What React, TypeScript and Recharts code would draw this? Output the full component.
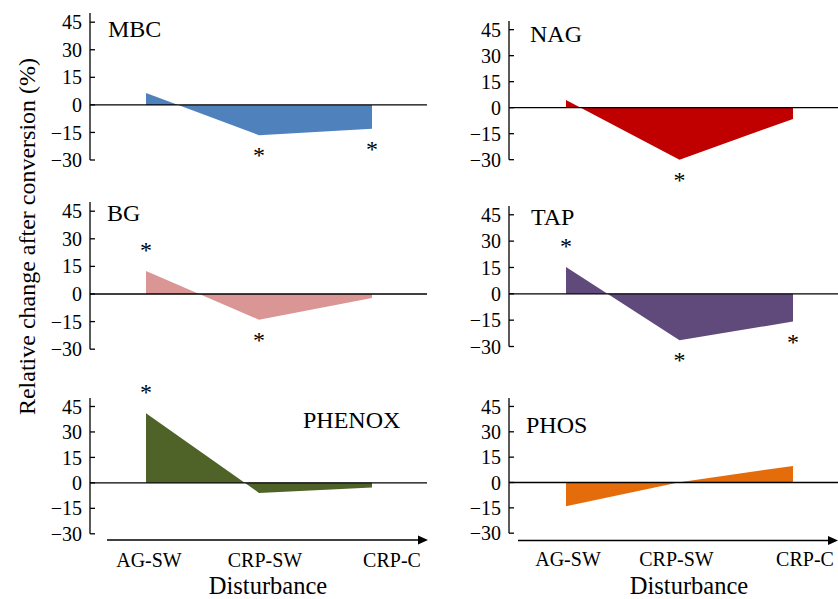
import React from 'react';
import { AreaChart, Area, XAxis, YAxis, ReferenceLine } from 'recharts';

// ---------- data ----------
const CATEGORIES = ['AG-SW', 'CRP-SW', 'CRP-C'];
const Y_TICKS = [-30, -15, 0, 15, 30, 45];

const MBC = [6.5, -16.5, -13];
const NAG = [4.4, -30, -6.5];
const BG = [12.5, -14, -2.2];
const TAP = [15.2, -26.5, -15.8];
const PHENOX = [41, -5.9, -2.7];
const PHOS = [-14, 0.2, 9.8];

const SIG_MBC = [false, true, true];
const SIG_NAG = [false, true, false];
const SIG_BG = [true, true, false];
const SIG_TAP = [true, true, true];
const SIG_PHENOX = [true, false, false];
const SIG_PHOS = [false, false, false];

const Y_TITLE = 'Relative change after conversion (%)';
const X_TITLE = 'Disturbance';

// ---------- style ----------
const FONT = '"Liberation Serif", "Times New Roman", Times, serif';

type Panel = {
  name: string;
  values: number[];
  sig: boolean[];
  color: string;
  col: 0 | 1;
  plotTop: number;
  plotBottom: number;
  titleX: number;
  titleY: number;
  showX: boolean;
};

const PANELS: Panel[] = [
  { name: 'MBC', values: MBC, sig: SIG_MBC, color: '#4F81BD', col: 0, plotTop: 13, plotBottom: 160, titleX: 108, titleY: 37, showX: false },
  { name: 'NAG', values: NAG, sig: SIG_NAG, color: '#C00000', col: 1, plotTop: 20.6, plotBottom: 159.3, titleX: 530, titleY: 41.5, showX: false },
  { name: 'BG', values: BG, sig: SIG_BG, color: '#D99694', col: 0, plotTop: 201.8, plotBottom: 349, titleX: 107, titleY: 221, showX: false },
  { name: 'TAP', values: TAP, sig: SIG_TAP, color: '#604A7B', col: 1, plotTop: 206.2, plotBottom: 346.7, titleX: 531, titleY: 225, showX: false },
  { name: 'PHENOX', values: PHENOX, sig: SIG_PHENOX, color: '#4F6228', col: 0, plotTop: 397.5, plotBottom: 533.3, titleX: 303, titleY: 428, showX: true },
  { name: 'PHOS', values: PHOS, sig: SIG_PHOS, color: '#E46C0A', col: 1, plotTop: 397.5, plotBottom: 532.7, titleX: 526, titleY: 433, showX: true },
];

const COLS = [
  { left: 0, width: 427, marginLeft: 30, padding: { left: 56, right: 55 }, labelDx: [3, 6, 20], arrowFrom: 107, arrowTo: 428, arrowY: 540, xTitleX: 268 },
  { left: 420, width: 418, marginLeft: 29, padding: { left: 57, right: 45 }, labelDx: [2, -3, 12], arrowFrom: 518, arrowTo: 838, arrowY: 540.5, xTitleX: 689 },
];

const fmtTick = (v: number) => (v < 0 ? `\u2212${Math.abs(v)}` : String(v));

const makeStar = (sig: boolean[]) => (props: any) => {
  const { cx, cy, index, payload } = props;
  if (!sig[index] || cx == null || cy == null) return <g key={`st-${index}`} />;
  const y = payload.v >= 0 ? cy - 13 : cy + 28;
  return (
    <text
      key={`st-${index}`}
      x={cx}
      y={y}
      textAnchor="middle"
      fontSize={24}
      fontFamily={FONT}
      fill="#000"
      stroke="none"
      style={{ fill: '#000', stroke: 'none' }}
    >
      *
    </text>
  );
};

const makeTick = (dxs: number[]) => (props: any) => {
  const { x, y, payload, index } = props;
  return (
    <text x={x + (dxs[index] ?? 0)} y={y + 33} textAnchor="middle" fontSize={20} fontFamily={FONT} fill="#000" stroke="none">
      {payload.value}
    </text>
  );
};

function PanelChart({ p }: { p: Panel }) {
  const col = COLS[p.col];
  const data = CATEGORIES.map((c, i) => ({ cat: c, v: p.values[i] }));
  const top = p.plotTop - 40;
  const xH = 45;
  const height = p.plotBottom - top + (p.showX ? xH : 40);
  return (
    <div style={{ position: 'absolute', left: col.left, top, width: col.width, height }}>
      <AreaChart
        width={col.width}
        height={height}
        data={data}
        margin={{ top: 40, right: 0, left: col.marginLeft, bottom: p.showX ? 0 : 40 }}
      >
        <XAxis
          dataKey="cat"
          hide={!p.showX}
          height={xH}
          padding={col.padding}
          axisLine={false}
          tickLine={false}
          tickSize={0}
          tickMargin={0}
          interval={0}
          tick={makeTick(col.labelDx)}
        />
        <YAxis
          type="number"
          domain={[-30, 50]}
          ticks={Y_TICKS}
          interval={0}
          width={60}
          tickSize={-5}
          tickMargin={13}
          tickFormatter={fmtTick}
          axisLine={{ stroke: '#000', strokeWidth: 1.3 }}
          tickLine={{ stroke: '#000', strokeWidth: 1.3 }}
          tick={{ fill: '#000', fontSize: 20, fontFamily: FONT }}
        />
        <Area
          type="linear"
          dataKey="v"
          baseValue={0}
          stroke="none"
          fill={p.color}
          fillOpacity={1}
          isAnimationActive={false}
          dot={makeStar(p.sig)}
          activeDot={false}
        />
        <ReferenceLine y={0} stroke="#000" strokeWidth={1.3} />
      </AreaChart>
    </div>
  );
}

export default function App() {
  return (
    <div
      style={{
        position: 'absolute',
        left: 0,
        top: 0,
        width: 838,
        height: 599,
        overflow: 'hidden',
        background: '#fff',
        fontFamily: FONT,
      }}
    >
      {PANELS.map((p) => (
        <PanelChart key={p.name} p={p} />
      ))}
      <svg
        width={838}
        height={599}
        style={{ position: 'absolute', left: 0, top: 0, pointerEvents: 'none' }}
      >
        {PANELS.map((p) => (
          <text key={`t-${p.name}`} x={p.titleX} y={p.titleY} fontSize={24} fontFamily={FONT} fill="#000">
            {p.name}
          </text>
        ))}
        <text
          transform="translate(35, 236.5) rotate(-90)"
          x={0}
          y={0}
          textAnchor="middle"
          fontSize={24}
          fontFamily={FONT}
          fill="#000"
        >
          {Y_TITLE}
        </text>
        {COLS.map((c, i) => (
          <g key={`ax-${i}`}>
            <line x1={c.arrowFrom} y1={c.arrowY} x2={c.arrowTo - 8} y2={c.arrowY} stroke="#000" strokeWidth={1.3} />
            <polygon
              points={`${c.arrowTo},${c.arrowY} ${c.arrowTo - 10},${c.arrowY - 4.5} ${c.arrowTo - 10},${c.arrowY + 4.5}`}
              fill="#000"
            />
            <text x={c.xTitleX} y={594} textAnchor="middle" fontSize={24.5} fontFamily={FONT} fill="#000">
              {X_TITLE}
            </text>
          </g>
        ))}
      </svg>
    </div>
  );
}
